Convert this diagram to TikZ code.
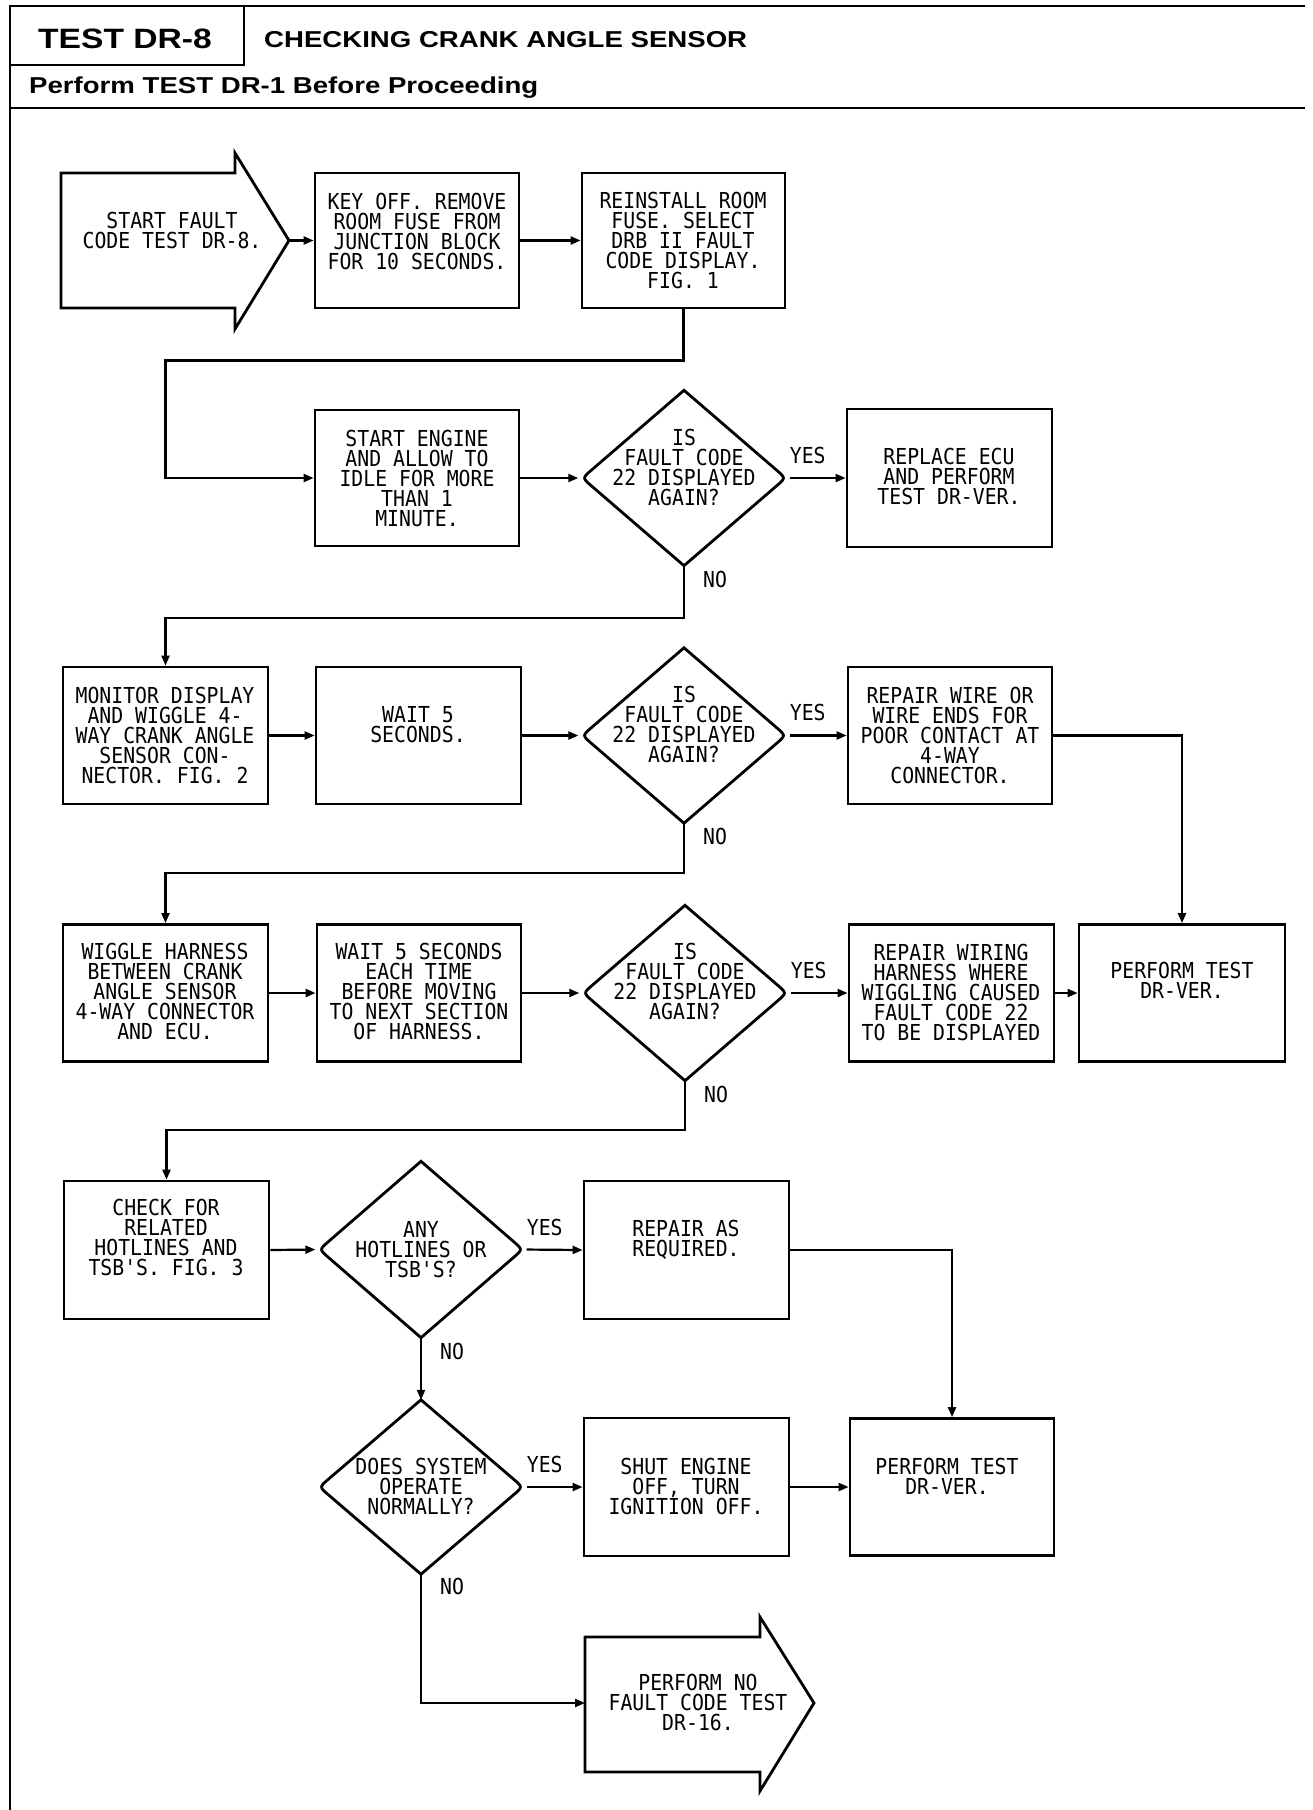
\documentclass[tikz,border=0pt]{standalone}
\usepackage{fontspec}
\newfontfamily\plotfont[FakeStretch=0.9]{DejaVu Sans Mono}
\newfontfamily\hdrfont[FakeStretch=1.2]{Liberation Sans}
\usetikzlibrary{arrows.meta,shapes.geometric,calc}
\newcommand\decoutline[1]{%
  \draw[line width=2.8pt, line join=miter] (#1.north) -- ($(#1.east)!12pt!(#1.north)$) .. controls (#1.east) .. ($(#1.east)!12pt!(#1.south)$) -- (#1.south) -- ($(#1.west)!12pt!(#1.south)$) .. controls (#1.west) .. ($(#1.west)!12pt!(#1.north)$) -- cycle;}
\begin{document}
\begin{tikzpicture}[x=1pt,y=-1pt,
  frameline/.style={line width=2.8pt},
  stepbox/.style={draw, line width=2.8pt, rectangle, minimum width=205, minimum height=137, inner sep=0},
  decnode/.style={diamond, minimum width=203, minimum height=175, inner sep=0},
  txt/.style={font=\plotfont\fontsize{22}{20}\selectfont, align=center, inner sep=0},
  lbl/.style={font=\plotfont\fontsize{22}{20}\selectfont, inner sep=0},
  conn/.style={line width=2.2pt, -{Triangle[length=10pt,width=8pt]}},
  hdr/.style={font=\hdrfont\bfseries\fontsize{23}{26}\selectfont, inner sep=0, anchor=base west},
]
\useasboundingbox (0,0) rectangle (1312,1810);
\fill[white] (0,0) rectangle (1312,1810);

% header frame
\draw[frameline] (1305,6) -- (10,6) -- (10,1810);
\draw[frameline] (10,65) -- (244,65) -- (244,6);
\draw[frameline] (10,108) -- (1305,108);
\node[hdr, font=\hdrfont\bfseries\fontsize{28}{30}\selectfont] (ttl) at (38,48) {TEST DR-8};
\node[hdr] (sub) at (264,47) {CHECKING CRANK ANGLE SENSOR};
\node[hdr] (pre) at (29,93) {Perform TEST DR-1 Before Proceeding};

% start arrow
\draw[frameline, line join=miter] (61,173) -- (235,173) -- (235,153) -- (289,240.5) -- (235,329) -- (235,308) -- (61,308) -- cycle;
\coordinate (starttip) at (289,240.5);
\node[txt] (startt) at (172,230) {START FAULT\\CODE TEST DR-8.};

% row 1
\node[stepbox, minimum width=204, minimum height=135] (b2) at (417,240.5) {};
\node[txt] (b2t) at (417,231) {KEY OFF. REMOVE\\ROOM FUSE FROM\\JUNCTION BLOCK\\FOR 10 SECONDS.};
\node[stepbox, minimum width=203, minimum height=135] (b3) at (683.5,240.5) {};
\node[txt] (b3t) at (683,240) {REINSTALL ROOM\\FUSE. SELECT\\DRB II FAULT\\CODE DISPLAY.\\FIG. 1};

% row 2
\node[stepbox, minimum width=204, minimum height=136] (b4) at (417,478) {};
\node[txt] (b4t) at (417,478) {START ENGINE\\AND ALLOW TO\\IDLE FOR MORE\\THAN 1\\MINUTE.};
\node[decnode] (d1) at (684,478) {};
\decoutline{d1}
\node[txt] (d1t) at (684,467) {IS\\FAULT CODE\\22 DISPLAYED\\AGAIN?};
\node[stepbox, minimum height=138] (b5) at (949.5,478) {};
\node[txt] (b5t) at (949,476) {REPLACE ECU\\AND PERFORM\\TEST DR-VER.};

% row 3
\node[stepbox] (b6) at (165.5,735.5) {};
\node[txt] (b6t) at (165,735) {MONITOR DISPLAY\\AND WIGGLE 4-\\WAY CRANK ANGLE\\SENSOR CON-\\NECTOR. FIG. 2};
\node[stepbox] (b7) at (418.5,735.5) {};
\node[txt] (b7t) at (418,725) {WAIT 5\\SECONDS.};
\node[decnode] (d2) at (684,735.5) {};
\decoutline{d2}
\node[txt] (d2t) at (684,724) {IS\\FAULT CODE\\22 DISPLAYED\\AGAIN?};
\node[stepbox, minimum width=204] (b8) at (950,735.5) {};
\node[txt] (b8t) at (950,735) {REPAIR WIRE OR\\WIRE ENDS FOR\\POOR CONTACT AT\\4-WAY\\CONNECTOR.};

% row 4
\node[stepbox] (b9) at (165.5,993) {};
\node[txt] (b9t) at (165,991) {WIGGLE HARNESS\\BETWEEN CRANK\\ANGLE SENSOR\\4-WAY CONNECTOR\\AND ECU.};
\node[stepbox, minimum width=204] (b10) at (419,993) {};
\node[txt] (b10t) at (419,991) {WAIT 5 SECONDS\\EACH TIME\\BEFORE MOVING\\TO NEXT SECTION\\OF HARNESS.};
\node[decnode] (d3) at (685,993) {};
\decoutline{d3}
\node[txt] (d3t) at (685,981) {IS\\FAULT CODE\\22 DISPLAYED\\AGAIN?};
\node[stepbox] (b11) at (951.5,993) {};
\node[txt] (b11t) at (951,992) {REPAIR WIRING\\HARNESS WHERE\\WIGGLING CAUSED\\FAULT CODE 22\\TO BE DISPLAYED};
\node[stepbox, minimum width=206] (b12) at (1182,993) {};
\node[txt] (b12t) at (1182,980) {PERFORM TEST\\DR-VER.};

% row 5
\node[stepbox, minimum height=138] (b13) at (166.5,1250) {};
\node[txt] (b13t) at (166,1237) {CHECK FOR\\RELATED\\HOTLINES AND\\TSB'S. FIG. 3};
\node[decnode, minimum height=176] (d4) at (421,1249.5) {};
\decoutline{d4}
\node[txt] (d4t) at (421,1250) {ANY\\HOTLINES OR\\TSB'S?};
\node[stepbox, minimum height=138] (b14) at (686.5,1250) {};
\node[txt] (b14t) at (686,1240) {REPAIR AS\\REQUIRED.};

% row 6
\node[decnode, minimum height=174] (d5) at (421,1487) {};
\decoutline{d5}
\node[txt] (d5t) at (421,1486) {DOES SYSTEM\\OPERATE\\NORMALLY?};
\node[stepbox, minimum height=138] (b15) at (686.5,1487) {};
\node[txt] (b15t) at (686,1486) {SHUT ENGINE\\OFF, TURN\\IGNITION OFF.};
\node[stepbox, minimum width=204] (b16) at (952,1487) {};
\node[txt] (b16t) at (947,1476) {PERFORM TEST\\DR-VER.};

% end arrow
\draw[frameline, line join=miter] (585,1637) -- (760,1637) -- (760,1617) -- (814,1703) -- (760,1791) -- (760,1772) -- (585,1772) -- cycle;
\coordinate (endin) at (585,1703);
\node[txt] (endt) at (698,1702) {PERFORM NO\\FAULT CODE TEST\\DR-16.};

% connectors
\draw[conn] (starttip) -- (b2.west);
\draw[conn] (b2.east) -- (b3.west);
\draw[conn] (b3.south) -- ++(0,51) -| (b4.west -| b6.north) -- (b4.west);
\draw[conn, shorten >=4pt] (b4.east) -- (d1.west);
\draw[conn, shorten <=4pt] (d1.east) -- (b5.west);
\draw[conn] (d1.south) -- ++(0,52) -| (b6.north);

\draw[conn] (b6.east) -- (b7.west);
\draw[conn, shorten >=4pt] (b7.east) -- (d2.west);
\draw[conn, shorten <=4pt] (d2.east) -- (b8.west);
\draw[conn] (b8.east) -| (b12.north);
\draw[conn] (d2.south) -- ++(0,50) -| (b9.north);

\draw[conn] (b9.east) -- (b10.west);
\draw[conn, shorten >=4pt] (b10.east) -- (d3.west);
\draw[conn, shorten <=4pt] (d3.east) -- (b11.west);
\draw[conn] (b11.east) -- (b12.west);
\draw[conn] (d3.south) -- ++(0,49) -| (b13.north);

\draw[conn, shorten >=4pt] (b13.east) -- (d4.west);
\draw[conn, shorten <=4pt] (d4.east) -- (b14.west);
\draw[conn] (b14.east) -| (b16.north);
\draw[conn] (d4.south) -- (d5.north);

\draw[conn, shorten <=4pt] (d5.east) -- (b15.west);
\draw[conn] (b15.east) -- (b16.west);
\draw[conn] (d5.south) |- (endin);

% labels
\node[lbl, anchor=south west] (y1) at ($(d1.east)+(4,-14)$) {YES};
\node[lbl, anchor=north west] (n1) at ($(d1.south)+(19,5)$) {NO};
\node[lbl, anchor=south west] (y2) at ($(d2.east)+(4,-14)$) {YES};
\node[lbl, anchor=north west] (n2) at ($(d2.south)+(19,5)$) {NO};
\node[lbl, anchor=south west] (y3) at ($(d3.east)+(4,-14)$) {YES};
\node[lbl, anchor=north west] (n3) at ($(d3.south)+(19,5)$) {NO};
\node[lbl, anchor=south west] (y4) at ($(d4.east)+(4,-14)$) {YES};
\node[lbl, anchor=north west] (n4) at ($(d4.south)+(19,5)$) {NO};
\node[lbl, anchor=south west] (y5) at ($(d5.east)+(4,-14)$) {YES};
\node[lbl, anchor=north west] (n5) at ($(d5.south)+(19,4)$) {NO};
\end{tikzpicture}
\end{document}
